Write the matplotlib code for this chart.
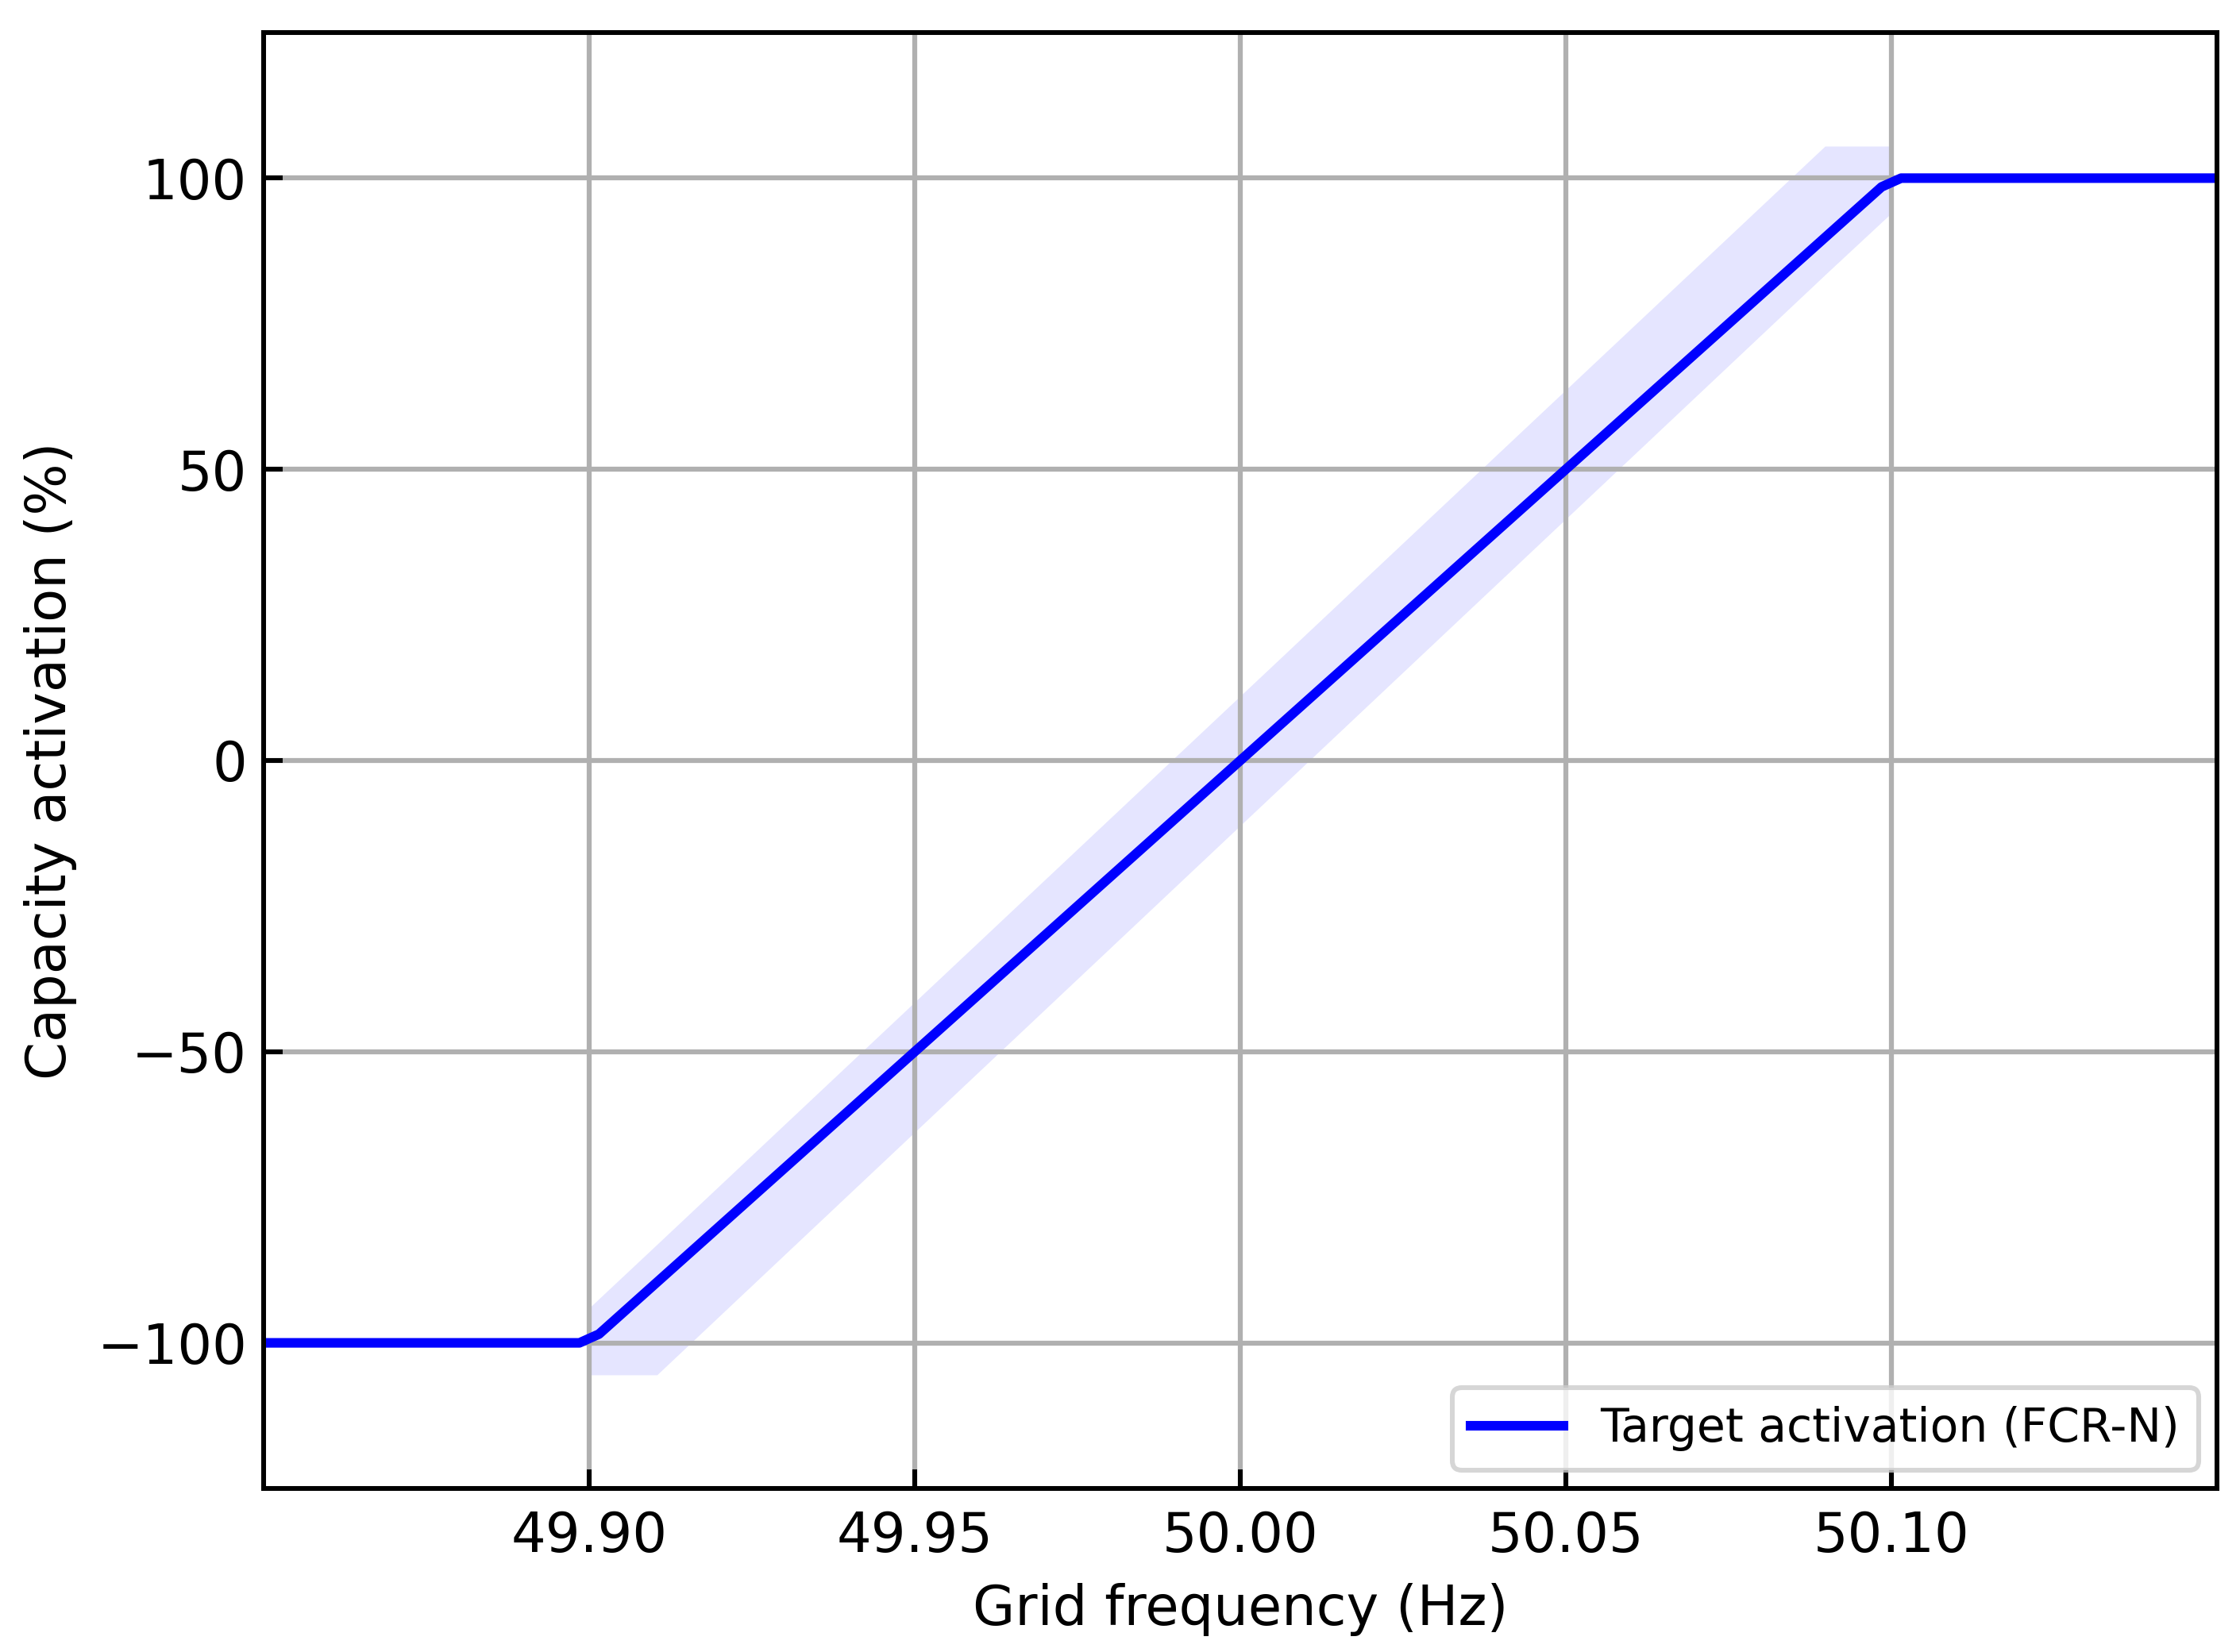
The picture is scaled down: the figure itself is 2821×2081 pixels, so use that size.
import matplotlib
matplotlib.use("Agg")
import matplotlib.pyplot as plt

# Target activation curve (sampled points)
freq = [49.85, 49.8985, 49.9015, 50.0985, 50.1015, 50.15]
activation = [-100, -100, -98.5, 98.5, 100, 100]

# Tolerance band
band_freq = [49.90, 49.9104, 50.0898, 50.10]
band_lower = [-105.5, -105.5, 83.4, 94.0]
band_upper = [-94.0, -83.1, 105.5, 105.5]

xticks = [49.90, 49.95, 50.00, 50.05, 50.10]
xtick_labels = ["49.90", "49.95", "50.00", "50.05", "50.10"]
yticks = [-100, -50, 0, 50, 100]
ytick_labels = ["\u2212100", "\u221250", "0", "50", "100"]

fig = plt.figure(figsize=(2821 / 300, 2081 / 300), dpi=300)
ax = fig.add_axes([0.1177, 0.0990, 0.8720, 0.8813])

ax.fill_between(band_freq, band_lower, band_upper, color="blue", alpha=0.1, linewidth=0)
ax.plot(freq, activation, color="blue", linewidth=2.9, label="Target activation (FCR-N)")

ax.set_xlim(49.85, 50.15)
ax.set_ylim(-125, 125)
ax.set_xticks(xticks)
ax.set_xticklabels(xtick_labels)
ax.set_yticks(yticks)
ax.set_yticklabels(ytick_labels)
ax.grid(True, color="#b0b0b0", linewidth=1.5)
ax.tick_params(direction="in", length=5.8, width=1.45, labelsize=16.5)
ax.tick_params(axis="x", pad=6.5)
ax.tick_params(axis="y", pad=5)
for sp in ax.spines.values():
    sp.set_linewidth(1.45)

ax.set_xlabel("Grid frequency (Hz)", fontsize=16.5, labelpad=6)
ax.set_ylabel("Capacity activation (%)", fontsize=16.5, labelpad=6)

leg = ax.legend(loc="lower right", fontsize=14, framealpha=0.8, fancybox=True,
                borderaxespad=0.4)
leg.get_frame().set_linewidth(1.45)
leg.get_frame().set_edgecolor("#cccccc")

fig.savefig("out.png", dpi=300)
